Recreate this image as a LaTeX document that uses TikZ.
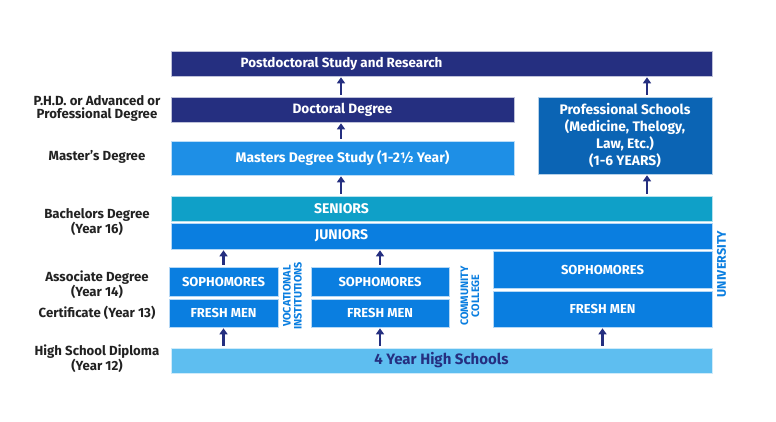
\documentclass[tikz,border=0pt]{standalone}
\usepackage{fontspec}
\setmainfont{Fira Sans}
\usetikzlibrary{arrows.meta}
\definecolor{navy}{HTML}{252F80}
\definecolor{mblue}{HTML}{1E8FE6}
\definecolor{pblue}{HTML}{0B64B4}
\definecolor{teal}{HTML}{0FA0C8}
\definecolor{jblue}{HTML}{0A7EE0}
\definecolor{hsblue}{HTML}{5EBEF0}
\definecolor{lab}{HTML}{222222}
\begin{document}
\begin{tikzpicture}[x=1pt,y=-1pt,
  box/.style={rectangle,inner sep=0pt,text=white,font=\bfseries,align=center,draw=white!70!#1,line width=0.6pt,fill=#1},
  btext/.style={inner sep=0pt,text=white,align=center},
  lbl/.style={text=lab,font=\bfseries\fontsize{13.2}{13.5}\selectfont,align=center},
  vlbl/.style={text=jblue,font=\bfseries\fontsize{10.8}{11}\selectfont,align=center,rotate=90},
  capf/.style={font=\bfseries\fontsize{13}{14}\selectfont},
  uparr/.style={draw=navy,line width=2.8pt,-{Triangle[width=8pt,length=6pt]},shorten <=2pt,shorten >=1pt}]
\useasboundingbox (0,0) rectangle (776,422);
\fill[white] (0,0) rectangle (776,422);
% boxes
\node[box=navy,minimum width=541pt,minimum height=25pt] (post) at (441.5,63.5) {};
\node[btext,font=\bfseries\fontsize{13.4}{14}\selectfont] (postT) at (341.5,63.5) {Postdoctoral Study and Research};
\node[box=navy,minimum width=343pt,minimum height=25pt,font=\bfseries\fontsize{13.6}{14}\selectfont] (doc) at (342.5,109.5) {Doctoral Degree};
\node[box=mblue,minimum width=343pt,minimum height=34pt,font=\bfseries\fontsize{13.9}{14}\selectfont] (mas) at (342.5,158) {Masters Degree Study (1-2\textonehalf{} Year)};
\node[box=pblue,minimum width=174pt,minimum height=77pt,font=\bfseries\fontsize{13.8}{16.8}\selectfont] (prof) at (625,135.5) {Professional Schools\\(Medicine, Thelogy,\\Law, Etc.)\\(1-6 YEARS)};
\node[box=teal,minimum width=541pt,minimum height=25pt] (sen) at (441.5,208.5) {};
\node[btext,font=\bfseries\fontsize{14}{14}\selectfont] (senT) at (341.5,208.5) {SENIORS};
\node[box=jblue,minimum width=541pt,minimum height=26pt] (jun) at (441.5,236) {};
\node[btext,font=\bfseries\fontsize{14}{14}\selectfont] (junT) at (341.5,236) {JUNIORS};
\node[box=jblue,capf,minimum width=109pt,minimum height=29pt] (vs) at (223.5,281.5) {SOPHOMORES};
\node[box=jblue,capf,minimum width=109pt,minimum height=28pt] (vf) at (223.5,313) {FRESH MEN};
\node[box=jblue,capf,minimum width=138pt,minimum height=29pt] (cs) at (380,281.5) {SOPHOMORES};
\node[box=jblue,capf,minimum width=138pt,minimum height=28pt] (cf) at (380,313) {FRESH MEN};
\node[box=jblue,capf,minimum width=219pt,minimum height=37pt] (us) at (602.5,269.5) {SOPHOMORES};
\node[box=jblue,capf,minimum width=219pt,minimum height=36pt] (uf) at (602.5,309) {FRESH MEN};
\node[box=hsblue,text=navy,minimum width=541pt,minimum height=25pt,font=\bfseries\fontsize{15}{15}\selectfont] (hs) at (441.5,360.5) {4 Year High Schools};
% vertical labels
\node[vlbl] (voc) at (292.5,296) {VOCATIONAL\\INSTITUTIONS};
\node[vlbl] (cc) at (470,296) {COMMUNITY\\COLLEGE};
\node[vlbl,font=\bfseries\fontsize{12.5}{12.5}\selectfont] (uni) at (721.5,264) {UNIVERSITY};
% left labels
\node[lbl] (l1) at (97,108.5) {P.H.D. or Advanced or\\Professional Degree};
\node[lbl] (l2) at (97,157) {Master's Degree};
\node[lbl] (l3) at (97,222) {Bachelors Degree\\(Year 16)};
\node[lbl] (l4) at (97,285) {Associate Degree\\(Year 14)};
\node[lbl] (l5) at (97,313) {Certificate (Year 13)};
\node[lbl] (l6) at (97,358.5) {High School Diploma\\(Year 12)};
% arrows
\coordinate (px) at (647,0);
\draw[uparr] (doc.north -| 341,0) -- (post.south -| 341,0);
\draw[uparr] (mas.north -| 341,0) -- (doc.south -| 341,0);
\draw[uparr] (sen.north -| 341,0) -- (mas.south -| 341,0);
\draw[uparr] (sen.north -| px) -- (prof.south -| px);
\draw[uparr] (prof.north -| px) -- (post.south -| px);
\draw[uparr] (vs.north) -- (vs.north |- jun.south);
\draw[uparr] (cs.north) -- (cs.north |- jun.south);
\draw[uparr] (hs.north -| vf.south) -- (vf.south);
\draw[uparr] (hs.north -| cf.south) -- (cf.south);
\draw[uparr] (hs.north -| uf.south) -- (uf.south);
\end{tikzpicture}
\end{document}
